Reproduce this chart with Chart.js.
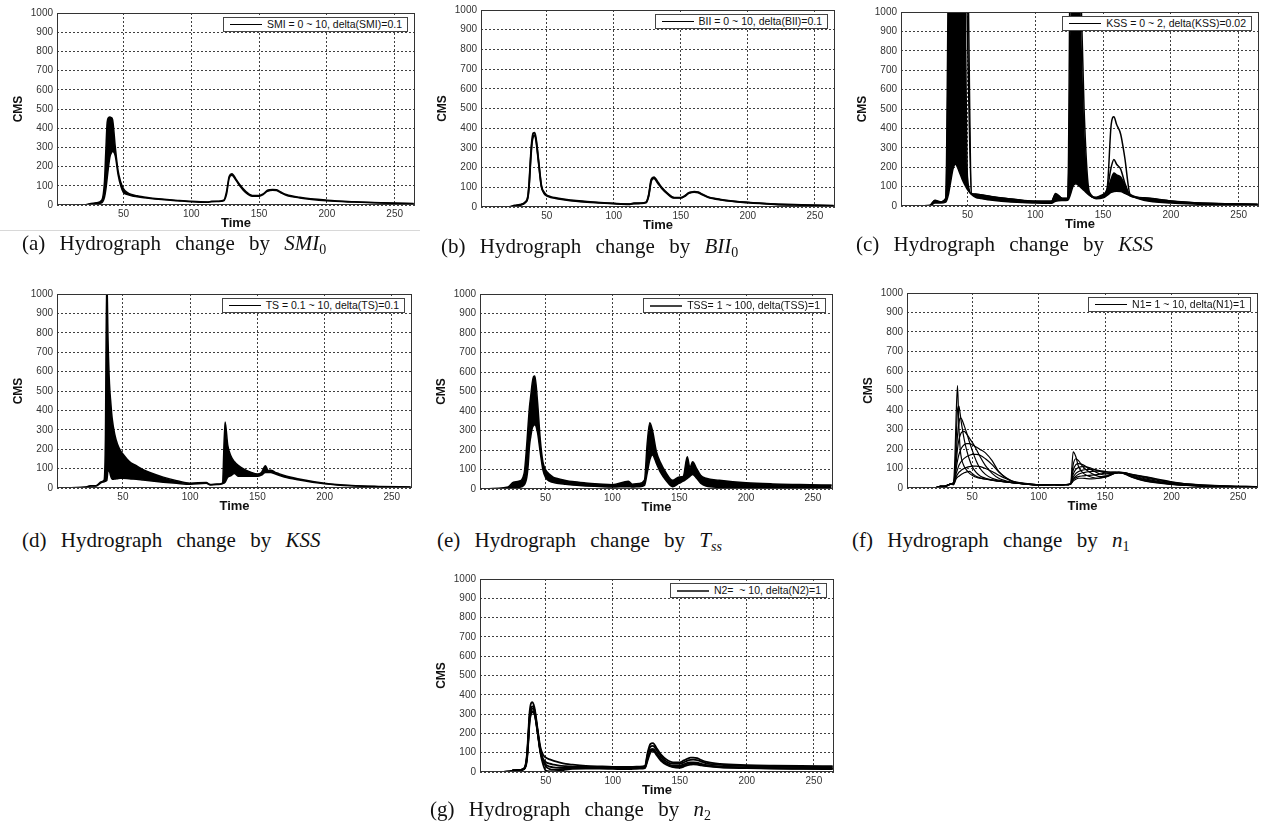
<!DOCTYPE html>
<html>
<head>
<meta charset="utf-8">
<script src="https://cdn.jsdelivr.net/npm/chart.js@4.4.1/dist/chart.umd.min.js"></script>
<style>
body{margin:0;background:#fff;width:1263px;height:830px;overflow:hidden;position:relative;font-family:"Liberation Sans",Arial,sans-serif}
canvas{position:absolute}
.leg{position:absolute;height:13px;border:1px solid #444;background:#fff;font-size:10.5px;line-height:13px;white-space:pre;padding:0 5px 0 6px;display:flex;align-items:center;z-index:2;color:#111}
.leg .ln{display:inline-block;width:32px;height:0;border-top:1.5px solid #000;margin-right:5px}
.cap{position:absolute;font-family:"Liberation Serif","DejaVu Serif",serif;font-size:21px;word-spacing:9px;line-height:24px;white-space:nowrap;color:#111}
.cap sub{font-size:14px;vertical-align:-4px;line-height:0}
.sep{position:absolute;left:0;top:230px;width:420px;height:1px;background:#d8d8d8}
</style>
</head>
<body>
<div class="sep"></div>
<script>
// time steps shared by every run
const T = [1,22,26,30,34,36,37,38,39,40,41,42,44,46,48,50,53,56,60,65,70,80,90,100,112,115,120,124,126,128,130,133,136,140,145,150,153,156,158,160,163,166,170,180,200,220,240,264];
const xTicks = [50, 100, 150, 200, 250];

// (a) SMI envelope
const aUp  = [0,1,8,12,25,120,280,430,455,458,455,445,300,180,120,85,65,55,48,42,37,30,24,19,16,19,20,25,70,150,163,135,105,72,50,50,58,76,80,81,79,68,55,40,25,17,12,8];
const aLow = [0,0,5,8,12,40,80,140,200,250,270,278,255,160,100,65,55,48,43,38,34,27,22,17,14,17,18,22,55,140,155,128,98,66,46,46,54,71,76,77,75,64,51,37,22,15,10,6];
// (b) BII
const bUp  = [0,1,8,12,25,55,130,250,340,375,378,350,230,110,75,60,52,47,42,37,33,27,22,18,15,19,20,24,60,140,152,125,97,70,48,48,57,72,76,78,75,65,52,38,23,15,11,7];
const bLow = [0,0,6,10,22,50,120,235,325,358,365,340,222,105,70,57,49,45,40,35,31,25,21,17,14,17,18,22,55,132,145,120,93,67,46,46,55,70,74,76,73,63,50,36,22,14,10,6];
// (c) KSS 0~2
const cUp    = [0,2,30,22,40,1300,2000,2000,2000,2000,2000,2000,2000,2000,2000,1400,65,62,58,52,46,38,30,25,25,65,40,40,1500,2000,2000,1300,500,70,45,60,90,420,460,420,370,250,60,42,26,16,12,9];
const cMid   = [0,2,28,20,38,900,1800,1800,1800,1800,1800,1800,1800,1800,1600,900,64,60,56,51,45,37,29,24,24,60,39,39,600,900,1100,800,300,58,43,57,85,200,240,215,190,120,56,41,25,15,11,8];
const cDense = [0,1,25,20,35,600,1500,1800,1800,1800,1800,1800,1700,1500,1200,150,62,58,55,50,44,36,28,23,22,55,38,38,800,1500,1500,1000,350,60,42,55,75,140,170,160,150,110,52,40,25,15,11,8];
const cLow   = [0,0,15,15,20,60,100,140,180,205,215,210,175,140,110,85,60,45,38,32,28,22,18,15,14,25,28,30,60,105,115,100,80,55,37,42,55,70,75,76,75,65,52,30,15,9,6,4];
// (d) TS
const dUp  = [0,5,12,12,32,40,250,1100,750,540,440,360,275,225,195,175,150,130,115,95,80,56,38,25,28,18,20,25,340,220,170,135,115,97,82,72,80,115,90,92,82,74,64,48,25,13,8,5];
const dLow = [0,3,10,10,28,32,35,38,90,85,60,45,46,48,50,50,49,47,45,41,37,30,24,19,24,16,18,22,30,55,62,75,60,60,60,60,66,80,80,80,73,66,57,43,22,11,7,4];
// (e) TSS
const eUp  = [0,10,35,40,80,230,330,420,480,540,575,580,450,260,140,100,75,60,52,44,38,31,26,22,40,25,28,45,230,340,300,190,135,85,45,62,65,165,110,140,105,70,55,45,32,26,23,20];
const eLow = [0,2,5,8,20,60,120,220,270,310,325,330,290,190,100,60,40,33,28,24,20,16,13,10,12,10,12,18,80,150,175,130,85,45,12,30,40,55,65,75,55,30,15,8,5,3,3,3];
// (f) N1 = 1 ~ 10
const f1 = [0,2,8,10,20,30,150,380,525,320,200,150,110,90,75,65,55,50,45,40,35,27,20,15,17,15,17,20,185,160,110,80,65,55,50,55,62,72,76,78,76,68,55,35,18,10,7,5];
const f2 = [0,2,8,10,20,28,80,250,400,420,380,330,250,190,145,110,80,62,50,42,36,27,20,15,17,15,17,20,120,150,140,112,92,74,60,58,64,73,77,79,77,69,57,37,19,11,7,5];
const f3 = [0,2,8,10,20,26,60,170,270,330,360,355,320,280,235,195,140,100,70,50,40,28,21,15,17,15,17,20,90,120,125,120,108,92,75,66,67,74,78,80,78,71,59,40,20,11,8,5];
const f4 = [0,2,8,10,20,24,50,130,200,245,270,285,290,275,255,235,200,160,115,75,50,30,21,16,17,15,17,20,70,95,105,110,108,100,88,78,74,76,78,80,79,73,62,43,22,12,8,5];
const f5 = [0,2,8,10,20,22,45,100,140,170,190,205,222,228,228,222,210,198,180,140,85,34,22,16,17,15,17,20,55,75,85,92,95,95,90,85,81,80,80,80,79,75,66,47,24,13,8,6];
const f6 = [0,2,8,10,20,20,40,75,95,115,128,138,152,162,168,172,172,168,150,120,82,36,23,17,17,16,18,20,45,60,70,78,82,85,86,84,82,81,81,80,79,76,68,52,27,14,9,6];
const f7 = [0,2,8,10,20,18,35,58,70,80,86,92,100,106,110,112,112,110,100,85,65,36,24,17,17,16,18,20,40,52,58,62,64,66,70,76,78,80,80,80,80,77,70,56,30,16,10,7];
const f8 = [0,2,8,10,20,16,30,48,55,60,65,70,78,83,85,75,60,52,46,40,35,27,20,15,17,15,17,20,35,45,50,50,48,47,50,58,64,72,76,78,78,75,70,58,32,17,11,7];
// (g) N2
const g1 = [0,2,8,10,20,90,200,310,355,362,350,320,220,130,90,75,65,58,50,42,38,32,29,27,27,27,28,32,100,145,150,120,90,65,50,50,60,70,74,74,72,62,52,42,36,33,31,30];
const g2 = [0,2,8,10,18,80,180,290,330,340,335,310,210,115,70,52,43,38,33,30,28,26,25,24,24,24,25,28,90,130,135,110,80,55,42,42,50,60,63,64,62,54,45,37,31,28,26,25];
const g3 = [0,2,8,10,16,70,160,270,305,315,312,295,205,110,60,38,28,24,22,21,21,21,21,21,21,21,22,25,75,115,120,95,68,45,32,32,40,48,50,50,48,42,36,29,24,21,20,19];
const g4 = [0,2,8,10,15,60,150,260,298,310,308,290,200,100,40,8,3,3,6,12,16,17,17,16,15,16,17,20,60,100,110,85,58,38,25,22,28,35,38,40,38,34,30,24,20,17,16,15];
const g5 = [0,2,8,10,17,75,170,280,318,328,325,300,207,106,58,30,15,12,14,18,22,23,22,20,19,19,20,23,70,108,115,90,62,42,28,27,34,42,44,45,43,38,33,26,22,19,18,17];

const panels = [
  {box:[57,13,415,205], series:[aLow,aUp], fillIdx:1, lw:1.5, legend:'SMI = 0 ~ 10, delta(SMI)=0.1', cap:[22,231,'(a) Hydrograph change by <i>SMI</i><sub>0</sub>']},
  {box:[481,10,835,207], series:[bLow,bUp], fillIdx:-1, lw:1.8, legend:'BII = 0 ~ 10, delta(BII)=0.1', cap:[441,234,'(b) Hydrograph change by <i>BII</i><sub>0</sub>']},
  {box:[901,12,1259,206], series:[cLow,cDense,cMid,cUp], fillIdx:1, lw:1.5, legend:'KSS = 0 ~ 2, delta(KSS)=0.02', cap:[856,232,'(c) Hydrograph change by <i>KSS</i>']},
  {box:[57,294,412,488], series:[dLow,dUp], fillIdx:1, lw:1.5, legend:'TS = 0.1 ~ 10, delta(TS)=0.1', cap:[22,528,'(d) Hydrograph change by <i>KSS</i>']},
  {box:[480,294,833,489], series:[eLow,eUp], fillIdx:1, lw:1.5, legend:'TSS= 1 ~ 100, delta(TSS)=1', grey:true, cap:[437,528,'(e) Hydrograph change by <i>T</i><sub><i>ss</i></sub>']},
  {box:[907,293,1258,488], series:[f1,f2,f3,f4,f5,f6,f7,f8], fillIdx:-1, lw:1.2, legend:'N1= 1 ~ 10, delta(N1)=1', cap:[852,528,'(f) Hydrograph change by <i>n</i><sub>1</sub>']},
  {box:[480,579,834,772], series:[g1,g2,g3,g4,g5], fillIdx:-1, lw:1.8, legend:'N2=  ~ 10, delta(N2)=1', grey:true, cap:[430,797,'(g) Hydrograph change by <i>n</i><sub>2</sub>']}
];

const frame = {
  id: 'frame',
  afterDraw(chart) {
    const a = chart.chartArea, ctx = chart.ctx;
    ctx.save();
    ctx.strokeStyle = '#333';
    ctx.lineWidth = 1;
    ctx.strokeRect(a.left + 0.5, a.top + 0.5, a.width - 1, a.height - 1);
    ctx.restore();
  }
};

const Y_W = 57, X_H = 34, PAD_T = 10, PAD_R = 4;

panels.forEach(p => {
  const [l, t, r, b] = p.box;
  const cv = document.createElement('canvas');
  cv.width = r - l + Y_W + PAD_R;
  cv.height = b - t + PAD_T + X_H;
  cv.style.left = (l - Y_W) + 'px';
  cv.style.top = (t - PAD_T) + 'px';
  document.body.appendChild(cv);

  const grid = {color: 'rgba(0,0,0,0.75)', lineWidth: 1, drawTicks: false};
  new Chart(cv, {
    type: 'line',
    data: {
      datasets: p.series.map((s, k) => ({
        data: s.map((v, i) => ({x: T[i], y: v})),
        borderColor: '#000',
        backgroundColor: '#000',
        borderWidth: p.lw,
        pointRadius: 0,
        cubicInterpolationMode: 'monotone',
        fill: k === p.fillIdx ? '-1' : false
      }))
    },
    options: {
      responsive: false,
      animation: false,
      devicePixelRatio: 1,
      layout: {padding: {top: PAD_T, right: PAD_R, left: 0, bottom: 0}},
      plugins: {legend: {display: false}, tooltip: {enabled: false}},
      scales: {
        x: {
          type: 'linear', min: 1, max: 265,
          afterBuildTicks: s => { s.ticks = xTicks.map(v => ({value: v})); },
          afterFit: s => { s.height = X_H; },
          ticks: {padding: 3, color: '#333', font: {size: 10, family: 'Liberation Sans'}, maxRotation: 0, autoSkip: false, callback: v => String(v)},
          grid: grid,
          border: {display: false, dash: [2, 2]},
          title: {display: true, text: 'Time', color: '#111', font: {size: 13, weight: 'bold', family: 'Liberation Sans'}, padding: {top: 0, bottom: 8}}
        },
        y: {
          min: 0, max: 1000,
          afterFit: s => { s.width = Y_W; },
          ticks: {stepSize: 100, padding: 4, color: '#333', font: {size: 10, family: 'Liberation Sans'}, callback: v => String(v)},
          grid: grid,
          border: {display: false, dash: [2, 2]},
          title: {display: true, text: 'CMS', color: '#111', font: {size: 12, weight: 'bold', family: 'Liberation Sans'}, padding: {top: 11, bottom: 0}}
        }
      }
    },
    plugins: [frame]
  });

  const lg = document.createElement('div');
  lg.className = 'leg';
  lg.style.right = (1263 - (r - 7)) + 'px';
  lg.style.top = (t + 4) + 'px';
  const ln = document.createElement('span');
  ln.className = 'ln';
  if (p.grey) ln.style.borderTop = '2px solid #444';
  lg.appendChild(ln);
  lg.appendChild(document.createTextNode(p.legend));
  document.body.appendChild(lg);

  const cp = document.createElement('div');
  cp.className = 'cap';
  cp.style.left = p.cap[0] + 'px';
  cp.style.top = p.cap[1] + 'px';
  cp.innerHTML = p.cap[2];
  document.body.appendChild(cp);
});
</script>
</body>
</html>
